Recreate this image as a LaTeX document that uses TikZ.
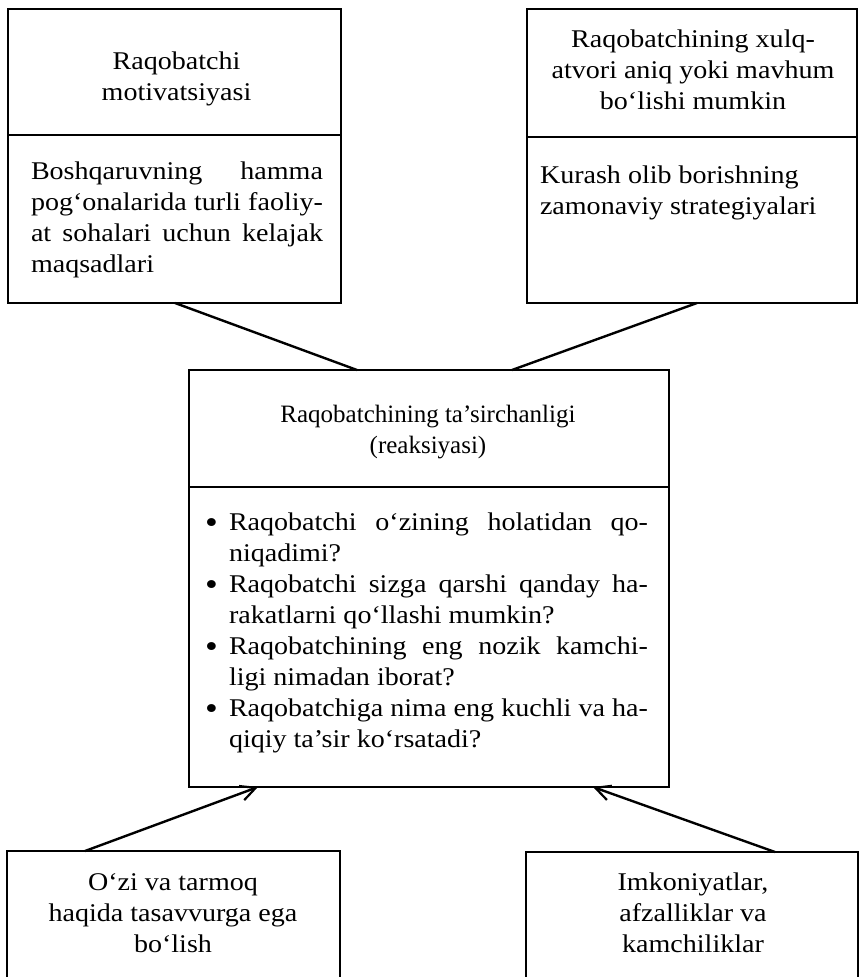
\documentclass[tikz,border=0pt]{standalone}
\usepackage{fontspec}
\setmainfont{Liberation Serif}
\newfontfamily\widerm[FakeStretch=1.1]{Liberation Serif}
\usetikzlibrary{arrows.meta}

% justified line of a given width
\newcommand{\jl}[2]{\makebox[#1][s]{#2}}
% hanging list bullet
\newcommand{\itemdot}{\llap{\raisebox{-3.5pt}{\scalebox{1.3}{•}}\hspace{11pt}}}

\tikzset{
  frame/.style={draw, line width=2.6pt, inner sep=0pt, outer sep=0pt, anchor=north west},
  openframe/.style={inner sep=0pt, outer sep=0pt, anchor=north west},
  txt/.style={inner sep=0pt, outer sep=0pt, font=\widerm\fontsize{25.5}{31}\selectfont},
  txtn/.style={inner sep=0pt, outer sep=0pt, font=\rmfamily\fontsize{25}{31}\selectfont},
  rule/.style={line width=2.6pt},
  link/.style={line width=2.4pt},
  arrowlink/.style={link, -{Straight Barb[length=15pt, width=15pt, line width=2.2pt]}}
}

\begin{document}
\begin{tikzpicture}[x=1pt, y=-1pt]
\useasboundingbox (0,0) rectangle (859,977);

% boxes
\node[frame, minimum width=333pt, minimum height=294pt] (tl) at (8,9) {};
\node[frame, minimum width=330pt, minimum height=294pt] (tr) at (527,9) {};
\node[frame, minimum width=480pt, minimum height=417pt] (c) at (189,370) {};
\node[openframe, minimum width=333pt, minimum height=130pt] (bl) at (7,851) {};
\node[openframe, minimum width=332pt, minimum height=130pt] (br) at (526,852) {};

% bottom boxes run off the lower edge
\draw[rule] (bl.south west) -- (bl.north west) -- (bl.north east) -- (bl.south east);
\draw[rule] (br.south west) -- (br.north west) -- (br.north east) -- (br.south east);

% section dividers
\draw[rule] (tl.west |- 0,135) -- (tl.east |- 0,135);
\draw[rule] (tr.west |- 0,137) -- (tr.east |- 0,137);
\draw[rule] (c.west |- 0,487) -- (c.east |- 0,487);

% top-left box
\node[txt, anchor=base] (tlhead) at (176.5,69)
  {\begin{tabular}[t]{@{}c@{}}Raqobatchi\\motivatsiyasi\end{tabular}};
\node[txt, anchor=base west] (tlbody) at (31,179)
  {\begin{tabular}[t]{@{}l@{}}
   \jl{292pt}{Boshqaruvning hamma}\\
   \jl{292pt}{pog‘onalarida turli faoliy-}\\
   \jl{292pt}{at sohalari uchun kelajak}\\
   maqsadlari
   \end{tabular}};

% top-right box
\node[txt, anchor=base] (trhead) at (693,47)
  {\begin{tabular}[t]{@{}c@{}}Raqobatchining xulq-\\atvori aniq yoki mavhum\\bo‘lishi mumkin\end{tabular}};
\node[txt, anchor=base west] (trbody) at (540,183)
  {\begin{tabular}[t]{@{}l@{}}Kurash olib borishning\\zamonaviy strategiyalari\end{tabular}};

% central box
\node[txtn, anchor=base] (chead) at (428,422)
  {\begin{tabular}[t]{@{}c@{}}Raqobatchining ta’sirchanligi\\(reaksiyasi)\end{tabular}};
\node[txt, anchor=base west] (cbody) at (229,530)
  {\begin{tabular}[t]{@{}l@{}}
   \itemdot\jl{419pt}{Raqobatchi o‘zining holatidan qo-}\\
   niqadimi?\\
   \itemdot\jl{419pt}{Raqobatchi sizga qarshi qanday ha-}\\
   rakatlarni qo‘llashi mumkin?\\
   \itemdot\jl{419pt}{Raqobatchining eng nozik kamchi-}\\
   ligi nimadan iborat?\\
   \itemdot\jl{419pt}{Raqobatchiga nima eng kuchli va ha-}\\
   qiqiy ta’sir ko‘rsatadi?
   \end{tabular}};

% bottom boxes
\node[txt, anchor=base] (bltext) at (173,890)
  {\begin{tabular}[t]{@{}c@{}}O‘zi va tarmoq\\haqida tasavvurga ega\\bo‘lish\end{tabular}};
\node[txt, anchor=base] (brtext) at (693,890)
  {\begin{tabular}[t]{@{}c@{}}Imkoniyatlar,\\afzalliklar va\\kamchiliklar\end{tabular}};

% connectors
\draw[link] ([xshift=167pt]tl.south west) -- ([xshift=168pt]c.north west);
\draw[link] ([xshift=170pt]tr.south west) -- ([xshift=323pt]c.north west);
\draw[arrowlink] ([xshift=78pt]bl.north west) -- ([xshift=69pt]c.south west);
\draw[arrowlink] ([xshift=249pt]br.north west) -- ([xshift=404pt]c.south west);
\end{tikzpicture}
\end{document}
